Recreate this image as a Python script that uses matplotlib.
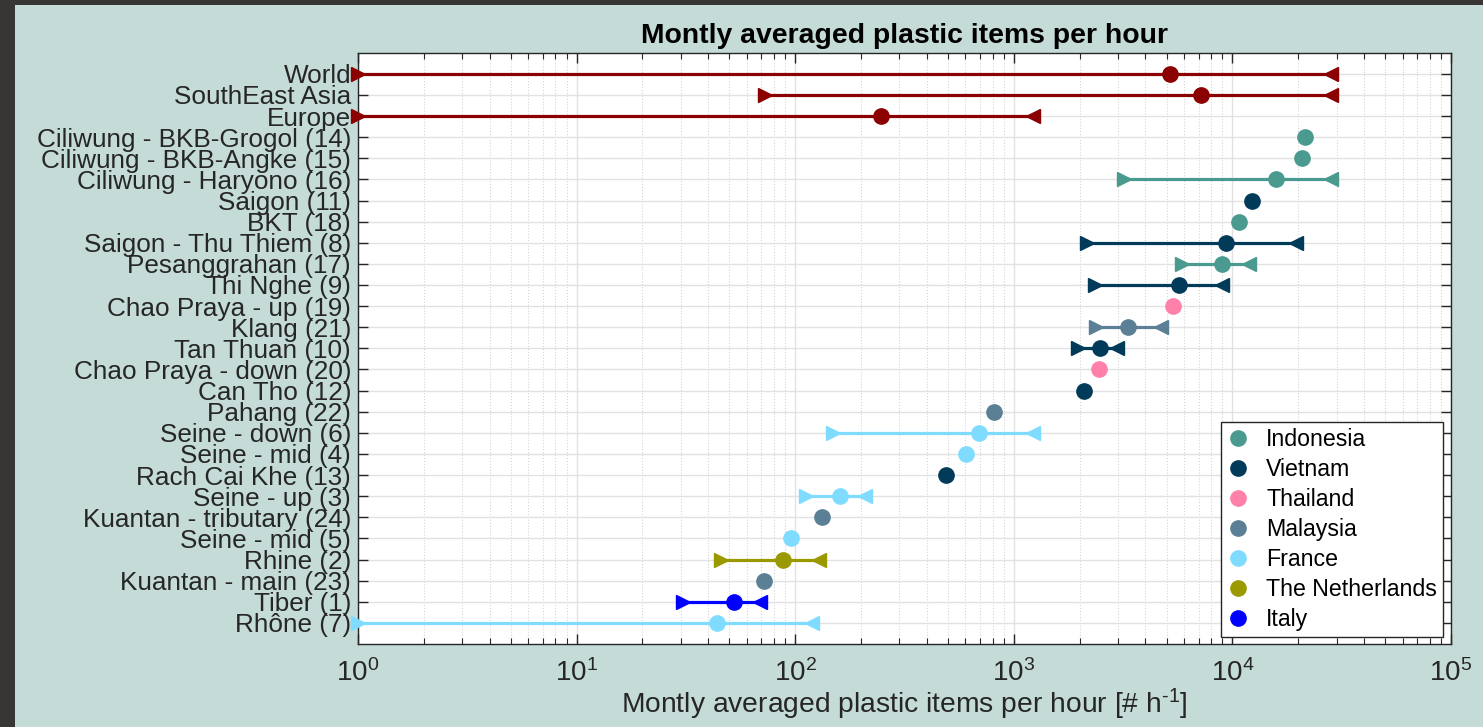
import numpy as np
import matplotlib
matplotlib.use("Agg")
import matplotlib.pyplot as plt
from matplotlib.patches import Rectangle
from matplotlib.lines import Line2D
from matplotlib.ticker import LogLocator, LogFormatterSciNotation, NullFormatter

plt.rcParams['font.family'] = ['Liberation Sans', 'DejaVu Sans']
plt.rcParams['mathtext.fontset'] = 'custom'
plt.rcParams['mathtext.rm'] = 'Liberation Sans'
plt.rcParams['mathtext.it'] = 'Liberation Sans:italic'

# Rivers / regions, listed top to bottom
sites = [
    "World", "SouthEast Asia", "Europe",
    "Ciliwung - BKB-Grogol (14)", "Ciliwung - BKB-Angke (15)", "Ciliwung - Haryono (16)",
    "Saigon (11)", "BKT (18)", "Saigon - Thu Thiem (8)", "Pesanggrahan (17)",
    "Thi Nghe (9)", "Chao Praya - up (19)", "Klang (21)", "Tan Thuan (10)",
    "Chao Praya - down (20)", "Can Tho (12)", "Pahang (22)", "Seine - down (6)",
    "Seine - mid (4)", "Rach Cai Khe (13)", "Seine - up (3)", "Kuantan - tributary (24)",
    "Seine - mid (5)", "Rhine (2)", "Kuantan - main (23)", "Tiber (1)", "Rhône (7)",
]
country = [
    "Region", "Region", "Region",
    "Indonesia", "Indonesia", "Indonesia",
    "Vietnam", "Indonesia", "Vietnam", "Indonesia",
    "Vietnam", "Thailand", "Malaysia", "Vietnam",
    "Thailand", "Vietnam", "Malaysia", "France",
    "France", "Vietnam", "France", "Malaysia",
    "France", "The Netherlands", "Malaysia", "Italy", "France",
]
# Monthly averaged items per hour (mean, minimum month, maximum month)
mean_val = [5200, 7200, 247,
            21500, 20800, 15800,
            12300, 10700, 9350, 8930,
            5700, 5370, 3340, 2480,
            2460, 2100, 811, 693,
            604, 490, 160, 133,
            96, 87.6, 72, 52.7, 44]
low_val = [1, 73, 1,
           np.nan, np.nan, 3190,
           np.nan, np.nan, 2170, 5880,
           2360, np.nan, 2380, 1970,
           np.nan, np.nan, np.nan, 149,
           np.nan, np.nan, 112, np.nan,
           np.nan, 45.8, np.nan, 30.6, 1]
high_val = [28200, 28200, 1220,
            np.nan, np.nan, 28200,
            np.nan, np.nan, 19500, 11950,
            8960, np.nan, 4700, 2980,
            np.nan, np.nan, np.nan, 1224,
            np.nan, np.nan, 209, np.nan,
            np.nan, 128.5, np.nan, 69.2, 119]

legend_order = ["Indonesia", "Vietnam", "Thailand", "Malaysia",
                "France", "The Netherlands", "Italy"]
colors = {
    "Region": "#8b0000",
    "Indonesia": "#4a9a8f",
    "Vietnam": "#023a5a",
    "Thailand": "#ff80a8",
    "Malaysia": "#5b7f95",
    "France": "#80dcff",
    "The Netherlands": "#9a9a00",
    "Italy": "#0000ff",
}

bg = "#c4dbd7"
ink = "#262626"

fig = plt.figure(figsize=(14.83, 7.27), dpi=100, facecolor=bg)
# dark window edges
fig.patches.append(Rectangle((0, 0), 15 / 1483, 1, transform=fig.transFigure,
                             facecolor="#383634", edgecolor="none", zorder=-1))
fig.patches.append(Rectangle((0, 1 - 5 / 727), 1, 5 / 727, transform=fig.transFigure,
                             facecolor="#383634", edgecolor="none", zorder=-1))

ax = fig.add_axes([358 / 1483, 1 - 644 / 727, (1451 - 358) / 1483, (644 - 52.7) / 727])
ax.set_facecolor("white")

n = len(sites)
ypos = np.arange(n, 0, -1)

for i in range(n):
    c = colors[country[i]]
    y = ypos[i]
    if not np.isnan(low_val[i]):
        ax.plot([low_val[i], high_val[i]], [y, y], color=c, lw=2.3, zorder=3,
                solid_capstyle="butt")
        ax.plot(low_val[i], y, marker=">", ms=10, color=c, mec=c, zorder=4,
                clip_on=False)
        ax.plot(high_val[i], y, marker="<", ms=10, color=c, mec=c, zorder=4,
                clip_on=False)
    ax.plot(mean_val[i], y, marker="o", ms=11, color=c, mec=c, zorder=5)

ax.set_xscale("log")
ax.set_xlim(1, 1e5)
ax.set_ylim(0, n + 1)
ax.set_yticks(ypos)
ax.set_yticklabels(sites)

ax.xaxis.set_major_locator(LogLocator(base=10, numticks=10))
ax.xaxis.set_minor_locator(LogLocator(base=10, subs=np.arange(2, 10), numticks=50))
ax.xaxis.set_major_formatter(LogFormatterSciNotation())
ax.xaxis.set_minor_formatter(NullFormatter())

ax.grid(True, which="major", axis="both", color="#e2e2e2", lw=1.0, zorder=0)
ax.grid(True, which="minor", axis="x", color="#d4d4d4", lw=0.8, ls=":", zorder=0)
ax.set_axisbelow(True)

ax.tick_params(axis="both", which="both", direction="in", top=True, right=True,
               colors=ink)
ax.tick_params(axis="y", which="major", length=7, width=1, labelsize=18.8, pad=5)
ax.tick_params(axis="x", which="major", length=7, width=1, labelsize=20, pad=11)
ax.tick_params(axis="x", which="minor", length=4, width=0.8)
for s in ax.spines.values():
    s.set_color(ink)
    s.set_linewidth(1.0)

ax.set_title("Montly averaged plastic items per hour", fontsize=20.4,
             fontweight="bold", color="black", pad=7)
ax.set_xlabel("Montly averaged plastic items per hour [# h$^{\\text{-}1}$]",
              fontsize=20.3, color=ink, labelpad=0)

handles = [Line2D([], [], ls="none", marker="o", ms=11, color=colors[k], mec=colors[k])
           for k in legend_order]
leg = ax.legend(handles, legend_order, loc="upper left",
                bbox_to_anchor=((1221 - 358) / 1093, (644 - 422) / 591.3),
                borderaxespad=0, fontsize=16.7, frameon=True, fancybox=False,
                edgecolor=ink, framealpha=1, labelspacing=0.305,
                handlelength=1.0, handletextpad=0.7, borderpad=0.25)
leg.get_frame().set_linewidth(1.0)
for t in leg.get_texts():
    t.set_color("black")

fig.savefig("out.png", dpi=100, facecolor=bg)
